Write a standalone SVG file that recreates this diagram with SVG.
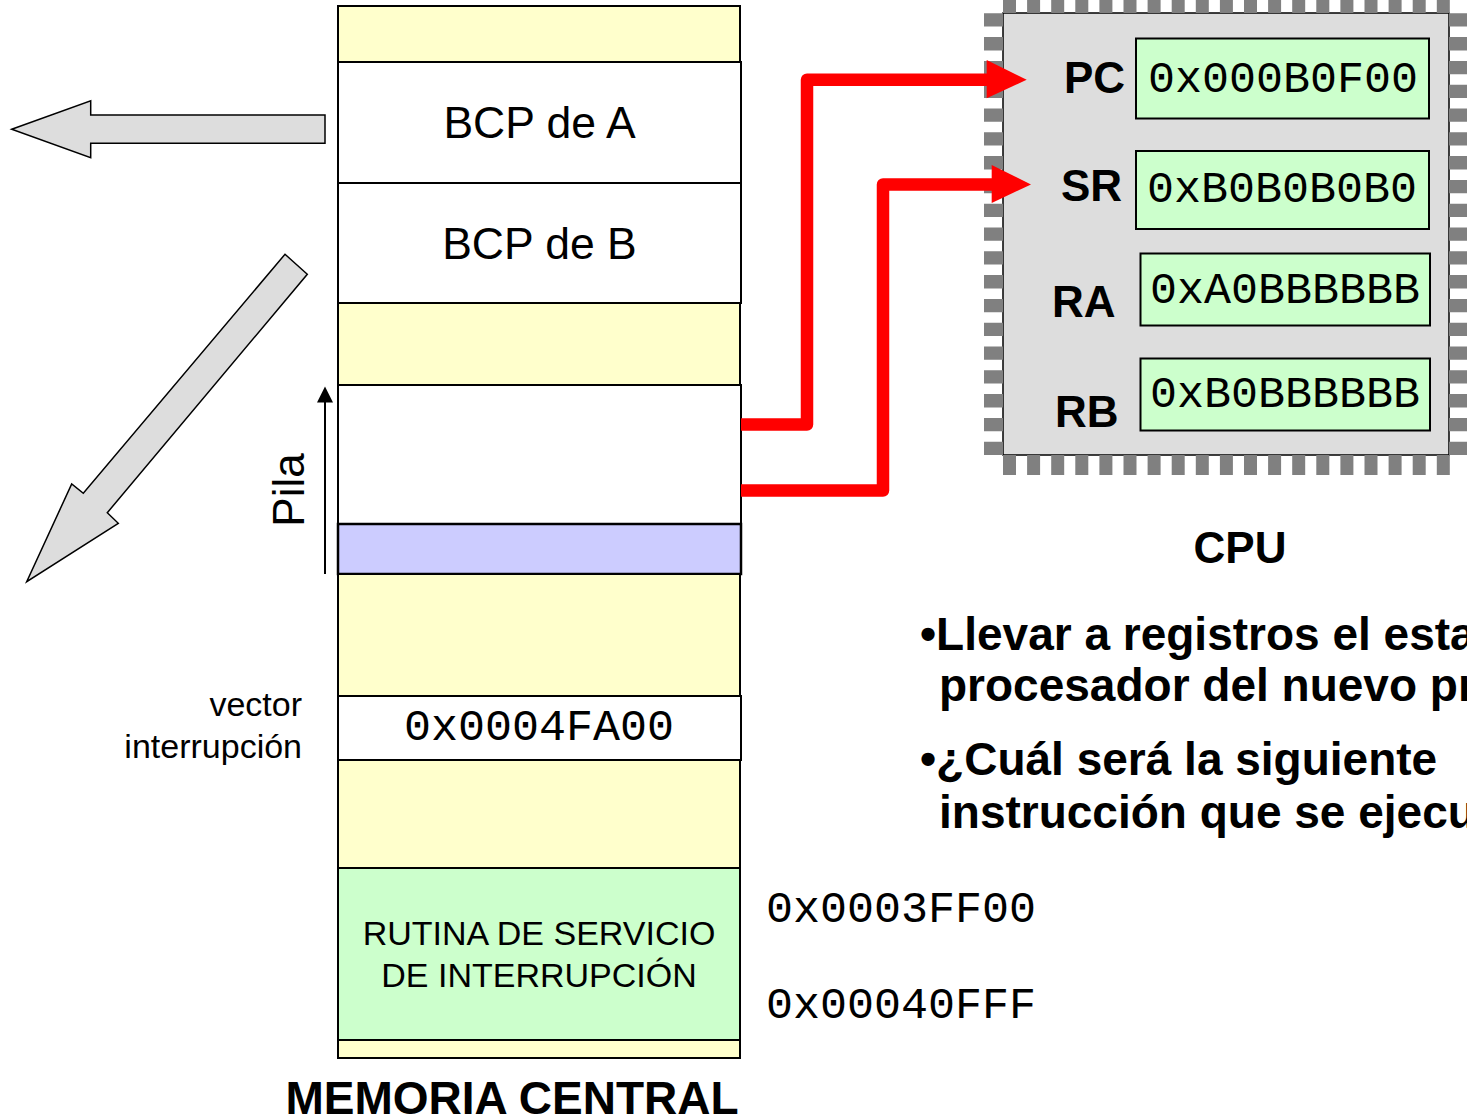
<svg xmlns="http://www.w3.org/2000/svg" width="1467" height="1116" viewBox="0 0 1467 1116">
  <style>
    text { font-family: "Liberation Sans", Arial, sans-serif; fill: #000; }
    .mono { font-family: "Liberation Mono", "Courier New", monospace; font-size: 45px; }
    .bold { font-weight: bold; }
    .yellow { fill: #FFFFCC; stroke: #000; stroke-width: 2; }
    .white { fill: #FFFFFF; stroke: #000; stroke-width: 2; }
    .green { fill: #CCFFCC; stroke: #000; stroke-width: 2; }
    .blue { fill: #CCCCFF; stroke: #000; stroke-width: 2.5; }
    .bigarrow { fill: #DDDDDD; stroke: #000; stroke-width: 1.5; stroke-linejoin: miter; }
    .wire { fill: none; stroke: #FF0000; stroke-width: 12.5; stroke-linejoin: round; }
    .head { fill: #FF0000; }
    .pins { stroke: #808080; fill: none; }
  </style>

  <!-- Main memory column -->
  <g id="memoria">
    <rect class="yellow" x="338" y="6" width="402" height="56"/>
    <g id="bcp-a">
      <rect class="white" x="338" y="62" width="403" height="121"/>
      <text x="539.5" y="138.3" font-size="44.5" text-anchor="middle">BCP de A</text>
    </g>
    <g id="bcp-b">
      <rect class="white" x="338" y="183" width="403" height="120"/>
      <text x="539.5" y="259.3" font-size="44.5" text-anchor="middle">BCP de B</text>
    </g>
    <rect class="yellow" x="338" y="303" width="402" height="82"/>
    <g id="pila-marco">
      <rect class="white" x="338" y="385" width="403" height="139" stroke-width="2.5"/>
    </g>
    <rect class="blue" x="338" y="524" width="403" height="50"/>
    <rect class="yellow" x="338" y="574" width="402" height="122"/>
    <g id="vector">
      <rect class="white" x="338" y="696" width="403" height="64"/>
      <text class="mono" x="404" y="740">0x0004FA00</text>
    </g>
    <rect class="yellow" x="338" y="760" width="402" height="108"/>
    <g id="rutina">
      <rect class="green" x="338" y="868" width="402" height="172"/>
      <text x="539" y="945" font-size="34" text-anchor="middle">RUTINA DE SERVICIO</text>
      <text x="539" y="987" font-size="34" text-anchor="middle">DE INTERRUPCIÓN</text>
    </g>
    <rect class="yellow" x="338" y="1040" width="402" height="18"/>
    <text class="bold" x="512" y="1114" font-size="46" text-anchor="middle">MEMORIA CENTRAL</text>
  </g>

  <!-- Side labels of the memory column -->
  <g id="etiquetas">
    <text x="302" y="716" font-size="34" text-anchor="end">vector</text>
    <text x="302" y="758" font-size="34" text-anchor="end">interrupción</text>
    <text class="mono" x="766" y="921.7">0x0003FF00</text>
    <text class="mono" x="766" y="1018.3">0x00040FFF</text>
  </g>

  <!-- Stack growth indicator -->
  <g id="pila">
    <line x1="325" y1="574" x2="325" y2="400" stroke="#000" stroke-width="2"/>
    <polygon points="325,386.5 317,402.5 333,402.5" fill="#000"/>
    <text x="0" y="0" font-size="44" text-anchor="middle" transform="translate(304,490) rotate(-90)">Pila</text>
  </g>

  <!-- Large outline arrows -->
  <g id="flecha-izquierda">
    <polygon class="bigarrow" points="11.7,129.3 90.7,100.7 90.7,115 325,115 325,143.3 90.7,143.3 90.7,157.7"/>
  </g>
  <g id="flecha-diagonal">
    <polygon class="bigarrow" points="285,254.3 307.3,274.3 107.3,512.7 118.3,523.3 26.7,581.7 71.7,484 83.3,493.3"/>
  </g>

  <!-- CPU chip -->
  <g id="cpu">
    <rect x="1003" y="13" width="446" height="442" fill="#DDDDDD" stroke="#000" stroke-width="1.5"/>
    <line class="pins" x1="993.5" y1="13.3" x2="993.5" y2="455" stroke-width="19" stroke-dasharray="13.3 10.5"/>
    <line class="pins" x1="1458" y1="13.3" x2="1458" y2="455" stroke-width="18" stroke-dasharray="13.3 10.5"/>
    <line class="pins" x1="1003" y1="6.5" x2="1450" y2="6.5" stroke-width="13" stroke-dasharray="13 11.1"/>
    <line class="pins" x1="1003" y1="465" x2="1450" y2="465" stroke-width="20" stroke-dasharray="13 11.1"/>

    <g id="reg-pc">
      <text class="bold" x="1064" y="93.3" font-size="44">PC</text>
      <rect class="green" x="1136" y="38.5" width="293" height="80"/>
      <text class="mono" x="1148" y="92">0x000B0F00</text>
    </g>
    <g id="reg-sr">
      <text class="bold" x="1061" y="201" font-size="44">SR</text>
      <rect class="green" x="1136" y="151" width="293" height="78"/>
      <text class="mono" x="1147" y="201.7">0xB0B0B0B0</text>
    </g>
    <g id="reg-ra">
      <text class="bold" x="1052" y="316.7" font-size="44">RA</text>
      <rect class="green" x="1140.5" y="253.5" width="289.5" height="72"/>
      <text class="mono" x="1150" y="302.7">0xA0BBBBBB</text>
    </g>
    <g id="reg-rb">
      <text class="bold" x="1055" y="426.7" font-size="44">RB</text>
      <rect class="green" x="1140.5" y="358.5" width="289.5" height="72"/>
      <text class="mono" x="1150" y="406.7">0xB0BBBBBB</text>
    </g>
    <text class="bold" x="1240" y="563.3" font-size="44" text-anchor="middle">CPU</text>
  </g>

  <!-- Connectors: saved context loaded into PC and SR -->
  <g id="conectores">
    <path class="wire" d="M741,424.5 H807 V79.7 H992"/>
    <polygon class="head" points="986.7,60 1026.7,79.7 986.7,98.3"/>
    <path class="wire" d="M741,490.5 H883 V184.5 H996"/>
    <polygon class="head" points="991.7,165 1031,184.5 991.7,203"/>
  </g>

  <!-- Notes -->
  <g id="notas">
    <text class="bold" x="920" y="650" font-size="46">•Llevar a registros el esta</text>
    <text class="bold" x="939" y="701" font-size="46">procesador del nuevo pr</text>
    <text class="bold" x="920" y="775" font-size="46">•¿Cuál será la siguiente</text>
    <text class="bold" x="939" y="828" font-size="46">instrucción que se ejecu</text>
  </g>
</svg>
